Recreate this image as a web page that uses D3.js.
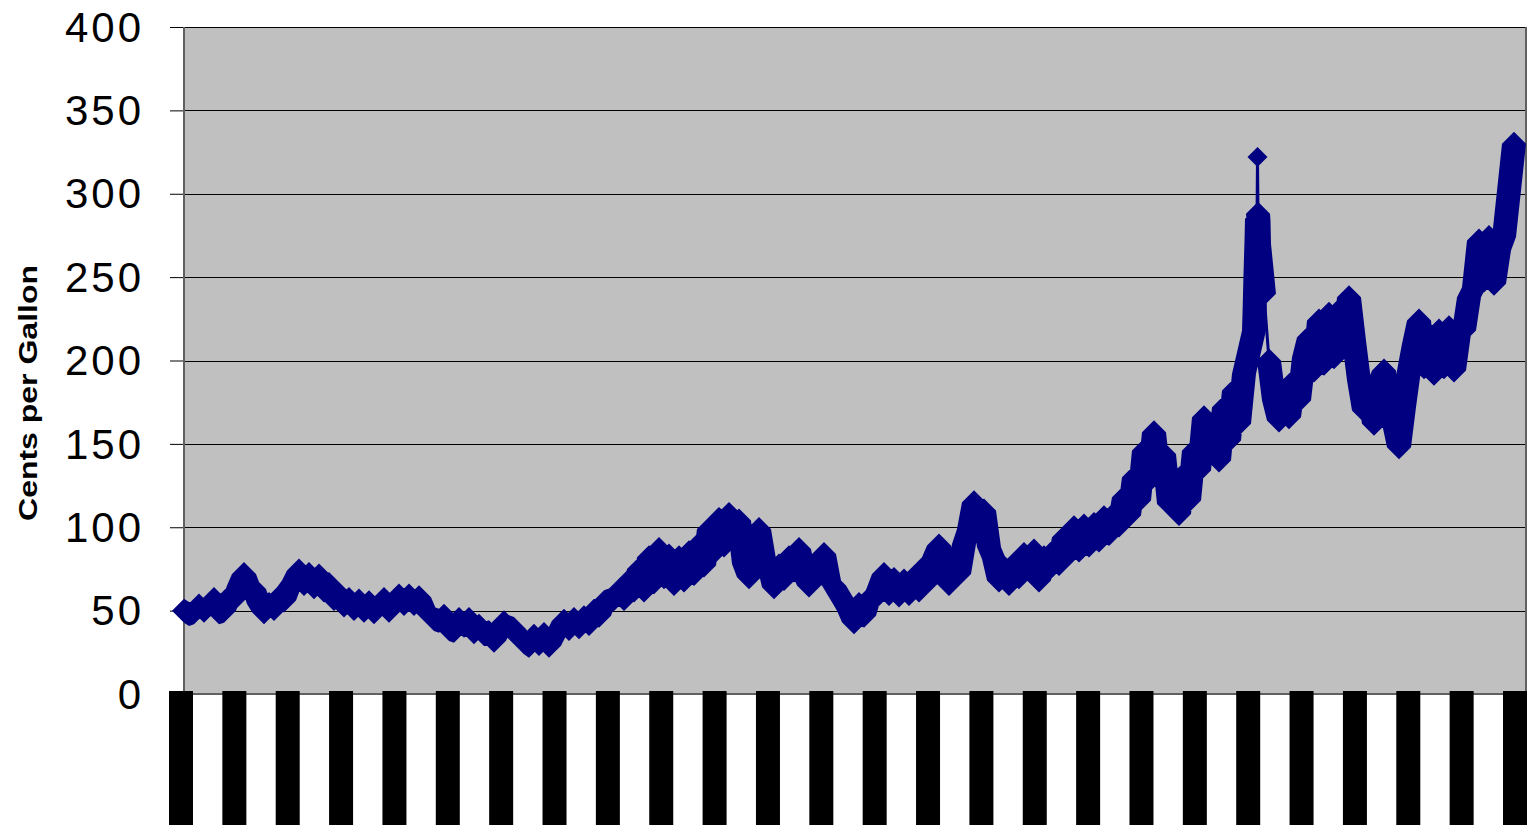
<!DOCTYPE html>
<html><head><meta charset="utf-8">
<script src="https://cdn.jsdelivr.net/npm/d3@7"></script>
<style>html,body{margin:0;padding:0;background:#fff;overflow:hidden}</style>
</head><body>
<svg id="chart" width="1528" height="825"></svg>
<script>
// ---- data ----
const yTicks = [0, 50, 100, 150, 200, 250, 300, 350, 400];
const yTitle = "Cents per Gallon";
const tickLabels = ["8/7/1995","2/5/1996","8/5/1996","2/3/1997","8/4/1997","2/2/1998","8/3/1998","2/1/1999","8/2/1999","1/31/2000","7/31/2000","1/29/2001","7/30/2001","1/28/2002","7/29/2002","1/27/2003","7/28/2003","1/26/2004","7/26/2004","1/24/2005","7/25/2005","1/23/2006","7/24/2006","1/22/2007","7/23/2007","1/21/2008"];
// sampled prices (cents per gallon), one per sampling period
const prices = [
 50,48,49,53,50,54,57,49,50,58,57,65,72,64,63,54,49,54,51,58,
 56,64,68,74,66,72,64,71,62,66,57,60,53,57,51,56,50,55,49,54,
 57,50,55,59,54,59,54,58,51,48,45,44,47,39,38,45,41,45,37,41,
 36,37,32,38,43,40,39,34,31,29,35,30,36,29,35,38,44,39,45,40,
 46,42,50,47,55,56,57,62,57,68,62,75,62,82,67,87,70,83,66,82,
 68,85,72,90,77,99,85,105,89,108,92,104,78,70,92,99,81,77,64,77,
 69,82,74,87,72,65,75,71,84,68,65,60,55,50,43,54,47,57,57,64,
 72,60,69,59,68,60,70,62,76,68,82,89,74,66,80,72,90,99,115,102,
 110,88,81,68,76,66,78,70,84,74,86,68,82,75,86,78,94,84,100,86,
 101,89,102,92,106,96,108,101,118,107,130,116,146,128,157,130,144,114,130,108,
 132,116,146,134,166,144,162,140,172,152,182,162,192,205,218,270,240,200,176,164,
 182,166,188,176,202,214,194,224,198,228,202,230,208,238,212,188,170,182,162,186,
 194,170,162,148,172,194,210,224,196,216,192,218,196,220,194,216,218,238,244,272,
 248,274,246,266,274,302,330
];
// daily prices around the hurricane spike, between sample 214 and 215
const katrinaAfter = 214;
const katrinaDaily = [228, 240, 252, 262, 272, 285, 322, 288, 284];

// ---- layout ----
const plot = {left: 184, right: 1526, top: 27, bottom: 694};
const svg = d3.select('#chart');
const font = "'Liberation Sans', Arial, sans-serif";
const navy = '#000080';

const y = d3.scaleLinear().domain([0, 400]).range([plot.bottom, plot.top]);
const x = d3.scaleLinear().domain([0, prices.length - 1]).range([plot.left, 1514]);
const xl = d3.scalePoint().domain(tickLabels).range([181, 1515]);

// merged series
const series = [];
prices.forEach((v, i) => {
  series.push({t: i, v});
  if (i === katrinaAfter) {
    katrinaDaily.forEach((kv, k) => series.push({t: i + (k + 1) / (katrinaDaily.length + 1), v: kv}));
  }
});

// plot background
svg.append('rect')
  .attr('x', plot.left).attr('y', plot.top)
  .attr('width', plot.right - plot.left).attr('height', plot.bottom - plot.top)
  .attr('fill', '#C0C0C0');

// gridlines
svg.append('g').selectAll('line').data(yTicks.filter(d => d > 0)).join('line')
  .attr('x1', plot.left).attr('x2', plot.right)
  .attr('y1', d => Math.round(y(d)) + 0.5).attr('y2', d => Math.round(y(d)) + 0.5)
  .attr('stroke', '#000').attr('stroke-width', 1);

// y axis with outward ticks
const yAxis = d3.axisLeft(y).tickValues(yTicks).tickSize(14).tickPadding(0).tickFormat(d3.format('d'));
const ga = svg.append('g').attr('transform', `translate(${plot.left},0)`).call(yAxis);
ga.select('.domain').remove();
ga.selectAll('.tick line').attr('stroke', '#000').attr('stroke-width', 1);
ga.selectAll('.tick text').remove();

svg.append('g').selectAll('text').data(yTicks).join('text')
  .attr('x', 144).attr('y', d => y(d)).attr('dy', '0.35em')
  .attr('text-anchor', 'end')
  .attr('font-family', font).attr('font-size', 42)
  .attr('letter-spacing', 3)
  .attr('fill', '#000')
  .text(d => d);

// plot border lines
svg.append('line').attr('x1', plot.left).attr('x2', plot.left).attr('y1', plot.top).attr('y2', plot.bottom + 1)
  .attr('stroke', '#606060').attr('stroke-width', 2);
svg.append('line').attr('x1', plot.left).attr('x2', plot.right).attr('y1', plot.bottom).attr('y2', plot.bottom)
  .attr('stroke', '#606060').attr('stroke-width', 2);
svg.append('line').attr('x1', plot.right).attr('x2', plot.right).attr('y1', plot.top).attr('y2', plot.bottom)
  .attr('stroke', '#606060').attr('stroke-width', 2);

// marker ribbon: union of (dense, overlapping) diamond markers between neighbouring observations
const r = 10, rs = 12;
const pts = series.map(d => [x(d.t), y(d.v)]);
const dia = p => [[p[0] - rs, p[1]], [p[0] + rs, p[1]], [p[0], p[1] - rs], [p[0], p[1] + rs]];
let sweep = '';
for (let k = 0; k < pts.length - 1; k++) {
  if (Math.abs(series[k + 1].v - series[k].v) > 32) continue;
  const hull = d3.polygonHull(dia(pts[k]).concat(dia(pts[k + 1])));
  sweep += 'M' + hull.map(p => p[0].toFixed(2) + ',' + p[1].toFixed(2)).join('L') + 'Z';
}
svg.append('path').attr('d', sweep).attr('fill', navy);

// series line
const line = d3.line().x(d => x(d.t)).y(d => y(d.v));
svg.append('path').datum(series).attr('d', line)
  .attr('fill', 'none').attr('stroke', navy).attr('stroke-width', 3);

// diamond markers
const diamond = `M0,${-r}L${r},0L0,${r}L${-r},0Z`;
svg.append('g').selectAll('path').data(series).join('path')
  .attr('transform', d => `translate(${x(d.t)},${y(d.v)})`)
  .attr('d', diamond).attr('fill', navy);

// x tick labels (rendered as solid black blocks)
const xlab = svg.append('g').selectAll('g').data(tickLabels).join('g')
  .attr('transform', d => `translate(${xl(d)},691)`);
xlab.append('rect').attr('x', -12).attr('y', 0).attr('width', 24).attr('height', 140).attr('fill', '#000');
xlab.append('text').attr('transform', 'rotate(-90)').attr('text-anchor', 'end')
  .attr('x', -4).attr('y', 7).attr('font-family', font).attr('font-size', 20).attr('fill', '#000')
  .text(d => d);

// y title
svg.append('text')
  .attr('transform', 'translate(37,393) rotate(-90) scale(1.28,1)')
  .attr('text-anchor', 'middle')
  .attr('font-family', font).attr('font-weight', 'bold').attr('font-size', 25)
  .attr('fill', '#000')
  .text(yTitle);
</script>
</body></html>
